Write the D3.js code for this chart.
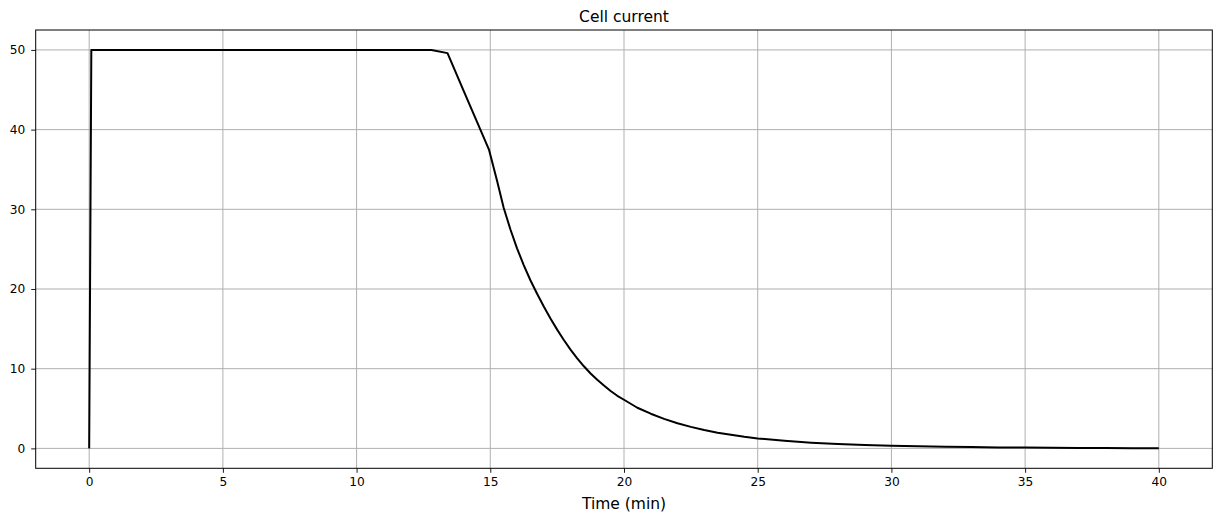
<!DOCTYPE html>
<html>
<head>
<meta charset="utf-8">
<script src="https://cdn.jsdelivr.net/npm/d3@7"></script>
<style>
  body { margin: 0; background: #fff; }
  text { font-family: "DejaVu Sans", sans-serif; fill: #000; }
</style>
</head>
<body>
<div id="chart"></div>
<script>
// time in minutes, cell current
var timeMin = [0, 0.08, 12.8, 13.4, 14.0, 14.5, 14.95,
  15.25, 15.5, 15.75, 16, 16.25, 16.5, 16.75, 17, 17.25, 17.5, 17.75, 18,
  18.25, 18.5, 18.75, 19, 19.25, 19.5, 19.75, 20,
  20.5, 21, 21.5, 22, 22.5, 23, 23.5, 24, 24.5, 25,
  26, 27, 28, 29, 30, 31, 32, 33, 34, 35, 36, 37, 38, 39, 40];
var current = [0, 50, 50, 49.6, 44.9, 41.0, 37.5,
  33.6, 30.2, 27.5, 25.1, 23.0, 21.1, 19.4, 17.8, 16.3, 14.9, 13.6, 12.4,
  11.3, 10.3, 9.4, 8.6, 7.9, 7.2, 6.6, 6.1,
  5.1, 4.35, 3.7, 3.15, 2.7, 2.3, 1.97, 1.7, 1.45, 1.25,
  0.95, 0.72, 0.55, 0.42, 0.33, 0.26, 0.2, 0.16, 0.12, 0.1, 0.08, 0.06, 0.04, 0.03, 0.02];
var xTicks = [0, 5, 10, 15, 20, 25, 30, 35, 40];
var yTicks = [0, 10, 20, 30, 40, 50];

var width = 1214;
var height = 514;
var plotLeft = 35.7, plotRight = 1212.3, plotTop = 30, plotBottom = 468.3;

var svg = d3.select("#chart")
  .append("svg")
    .attr("width", width)
    .attr("height", height);

var x = d3.scaleLinear()
  .domain([-2, 42])
  .range([plotLeft, plotRight]);

var y = d3.scaleLinear()
  .domain([-2.5, 52.5])
  .range([plotBottom, plotTop]);

// grid
svg.append("g")
  .selectAll("line")
  .data(xTicks)
  .enter()
  .append("line")
    .attr("x1", function(d) { return x(d); })
    .attr("x2", function(d) { return x(d); })
    .attr("y1", plotTop)
    .attr("y2", plotBottom)
    .attr("stroke", "#b0b0b0")
    .attr("stroke-width", 1);

svg.append("g")
  .selectAll("line")
  .data(yTicks)
  .enter()
  .append("line")
    .attr("x1", plotLeft)
    .attr("x2", plotRight)
    .attr("y1", function(d) { return y(d); })
    .attr("y2", function(d) { return y(d); })
    .attr("stroke", "#b0b0b0")
    .attr("stroke-width", 1);

// axes
var xAxis = svg.append("g")
  .attr("transform", "translate(0," + plotBottom + ")")
  .call(d3.axisBottom(x).tickValues(xTicks).tickSize(4.5).tickPadding(5));
var yAxis = svg.append("g")
  .attr("transform", "translate(" + plotLeft + ",0)")
  .call(d3.axisLeft(y).tickValues(yTicks).tickSize(4.5).tickPadding(6));

[xAxis, yAxis].forEach(function(a) {
  a.select(".domain").remove();
  a.attr("font-size", 12.2).attr("font-family", "DejaVu Sans");
  a.selectAll("text").attr("fill", "#000");
  a.selectAll("line").attr("stroke", "#000").attr("stroke-width", 0.9);
});

// frame
svg.append("rect")
  .attr("x", plotLeft)
  .attr("y", plotTop)
  .attr("width", plotRight - plotLeft)
  .attr("height", plotBottom - plotTop)
  .attr("fill", "none")
  .attr("stroke", "#000")
  .attr("stroke-width", 1);

// current line
var line = d3.line()
  .x(function(d, i) { return x(timeMin[i]); })
  .y(function(d) { return y(d); });

svg.append("path")
  .datum(current)
  .attr("d", line)
  .attr("fill", "none")
  .attr("stroke", "#000")
  .attr("stroke-width", 2)
  .attr("stroke-linejoin", "round");

// title and label
svg.append("text")
  .attr("x", (plotLeft + plotRight) / 2)
  .attr("y", 22)
  .attr("text-anchor", "middle")
  .style("font-size", "15.5px")
  .text("Cell current");

svg.append("text")
  .attr("x", (plotLeft + plotRight) / 2)
  .attr("y", 509)
  .attr("text-anchor", "middle")
  .style("font-size", "15.5px")
  .text("Time (min)");
</script>
</body>
</html>
